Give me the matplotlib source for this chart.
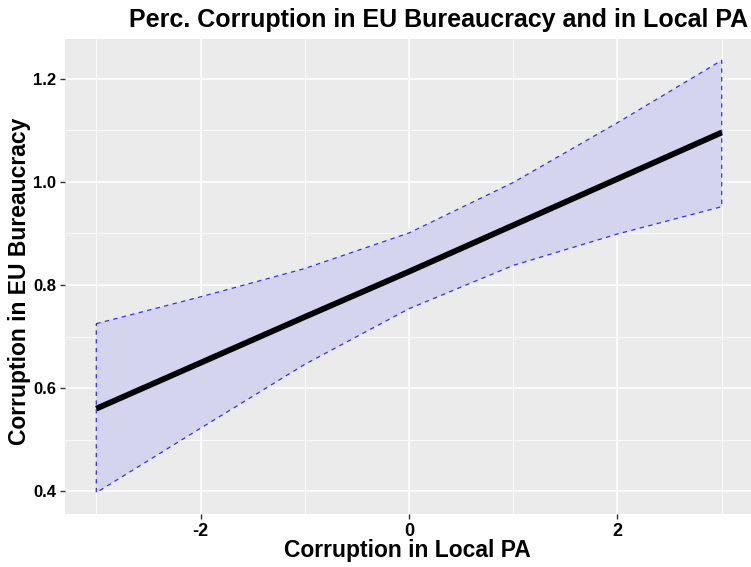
import numpy as np
import matplotlib
matplotlib.use("Agg")
import matplotlib.pyplot as plt

# values
local_pa = [-3, -2, -1, 0, 1, 2, 3]
eu_fit = [0.560, 0.649, 0.738, 0.826, 0.916, 1.006, 1.096]
eu_lower = [0.397, 0.522, 0.646, 0.754, 0.838, 0.899, 0.952]
eu_upper = [0.725, 0.777, 0.832, 0.901, 0.999, 1.115, 1.236]

title = "Perc. Corruption in EU Bureaucracy and in Local PA"
xlab = "Corruption in Local PA"
ylab = "Corruption in EU Bureaucracy"

plt.rcParams['font.family'] = ['Liberation Sans', 'DejaVu Sans']
plt.rcParams['axes.unicode_minus'] = False

fig = plt.figure(figsize=(7.51, 5.67), dpi=100)
ax = fig.add_axes([65 / 751, 53 / 567, 688 / 751, 475 / 567])
ax.set_facecolor('#EBEBEB')
for s in ax.spines.values():
    s.set_visible(False)

# ribbon with dashed outline
xs = np.array(local_pa)
poly_x = np.concatenate([xs, xs[::-1], xs[:1]])
poly_y = np.concatenate([eu_upper, eu_lower[::-1], eu_upper[:1]])
ax.fill(poly_x, poly_y, facecolor='#D4D4EF', edgecolor='none', zorder=2)
ax.plot(poly_x, poly_y, color='#3030FF', lw=0.9, ls=(0, (3.5, 3.5)), zorder=3)
ax.plot(xs, eu_fit, color='black', lw=4.2, solid_capstyle='butt', zorder=4)

ax.set_xlim(-3.3, 3.3)
ax.set_ylim(0.3556, 1.2774)
ax.set_xticks([-2, 0, 2])
ax.set_xticks([-3, -1, 1, 3], minor=True)
ax.set_yticks([0.4, 0.6, 0.8, 1.0, 1.2])
ax.set_yticks([0.5, 0.7, 0.9, 1.1], minor=True)
ax.set_yticklabels(['0.4', '0.6', '0.8', '1.0', '1.2'])
ax.grid(which='major', color='white', lw=1.1, zorder=1)
ax.grid(which='minor', color='white', lw=0.55, zorder=1)
ax.set_axisbelow(True)
ax.tick_params(which='major', length=3.5, width=1.0, color='#333333',
               labelcolor='black', pad=3)
ax.tick_params(axis='x', which='major', labelsize=13)
ax.tick_params(axis='y', which='major', labelsize=12)
ax.tick_params(which='minor', length=0)
for lab in ax.get_xticklabels() + ax.get_yticklabels():
    lab.set_fontweight('bold')

ax.set_xlabel(xlab, fontsize=16.5, fontweight='bold', va='center')
ax.set_ylabel(ylab, fontsize=16.5, fontweight='bold', va='center')
ax.xaxis.set_label_coords(0.5 - 2 / 688, -36 / 475)
ax.yaxis.set_label_coords(-45 / 688, 0.49)
fig.text(0.5846, 0.965, title, fontsize=18, fontweight='bold', ha='center', va='center')

fig.savefig('out.png', dpi=100)
